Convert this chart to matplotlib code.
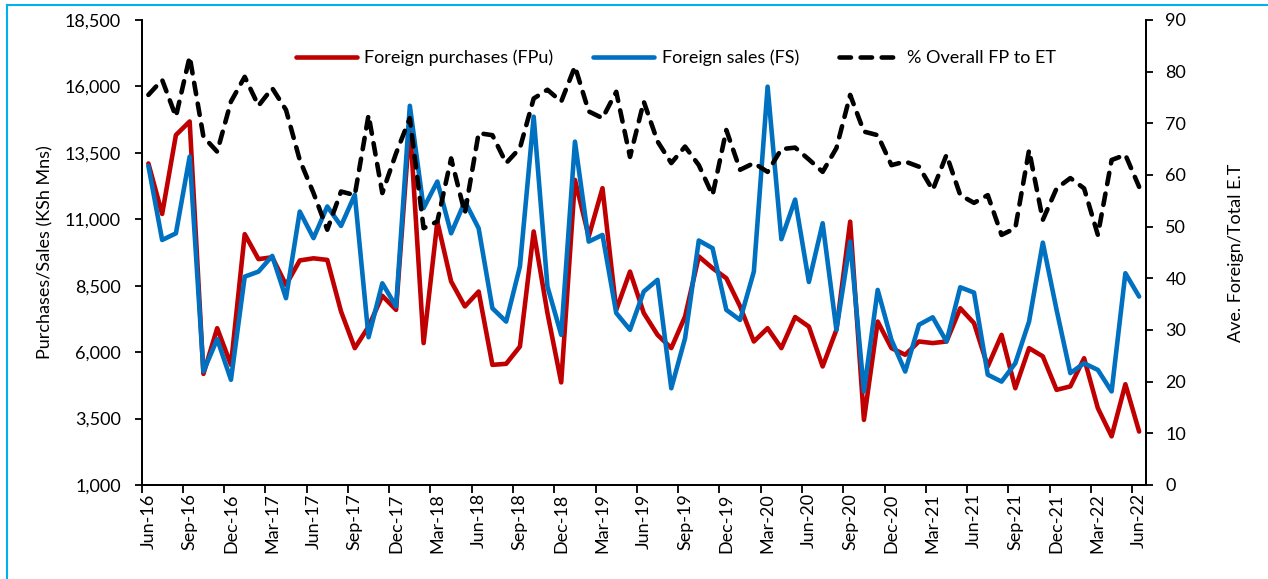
import matplotlib
matplotlib.use("Agg")
import matplotlib.pyplot as plt
from matplotlib.ticker import FuncFormatter, FixedLocator
from matplotlib.lines import Line2D

plt.rcParams['font.family'] = ['Lato', 'DejaVu Sans']

months = ["Jun-16", "Sep-16", "Dec-16", "Mar-17", "Jun-17", "Sep-17", "Dec-17", "Mar-18",
          "Jun-18", "Sep-18", "Dec-18", "Mar-19", "Jun-19", "Sep-19", "Dec-19", "Mar-20",
          "Jun-20", "Sep-20", "Dec-20", "Mar-21", "Jun-21", "Sep-21", "Dec-21", "Mar-22", "Jun-22"]

fpu = [13100, 11200, 14170, 14680, 5180, 6900, 5520, 10440, 9500, 9570,
       8530, 9450, 9530, 9470, 7530, 6150, 6960, 8120, 7590, 14600,
       6340, 10910, 8660, 7720, 8280, 5520, 5560, 6210, 10540, 7470,
       4860, 12480, 10350, 12170, 7590, 9030, 7470, 6650, 6150, 7340,
       9600, 9160, 8780, 7720, 6400, 6900, 6150, 7320, 6960, 5460,
       6840, 10910, 3450, 7150, 6150, 5900, 6400, 6340, 6400, 7650,
       7090, 5460, 6650, 4640, 6150, 5840, 4580, 4710, 5770, 3890,
       2830, 4790, 3010]

fs = [13010, 10220, 10470, 13360, 5270, 6490, 4960, 8840, 9030, 9620,
      8030, 11290, 10290, 11480, 10750, 11920, 6560, 8590, 7720, 15270,
      11420, 12420, 10470, 11670, 10660, 7650, 7150, 9220, 14860, 8470,
      6650, 13920, 10160, 10410, 7470, 6840, 8280, 8720, 4640, 6520,
      10200, 9910, 7590, 7210, 9030, 15990, 10250, 11740, 8640, 10850,
      6840, 10160, 4520, 8340, 6460, 5270, 7030, 7310, 6400, 8440,
      8240, 5150, 4890, 5580, 7150, 10120, 7590, 5210, 5580, 5330,
      4520, 8970, 8090]

pct = [75.5, 78.4, 71.3, 82.9, 67.4, 64.5, 74.2, 79.0, 73.4, 76.8,
       72.6, 62.9, 56.5, 49.4, 56.8, 56.1, 71.6, 56.5, 64.2, 71.0,
       49.7, 51.0, 63.2, 52.6, 68.1, 67.7, 62.3, 65.2, 74.8, 76.5,
       74.2, 81.0, 72.3, 71.0, 76.1, 63.5, 74.2, 66.5, 62.3, 65.5,
       61.9, 56.1, 68.7, 61.0, 62.3, 60.6, 65.0, 65.3, 63.0, 60.6,
       65.2, 75.5, 68.4, 67.7, 61.9, 62.6, 61.6, 57.1, 63.9, 56.1,
       54.6, 56.1, 48.4, 49.7, 64.8, 51.3, 57.4, 59.4, 57.4, 48.4,
       62.9, 63.9, 57.7]

RED = "#C00000"
BLUE = "#0070C0"
FS_ = 13
LW = 3.3

fig = plt.figure(figsize=(12.68, 5.79), dpi=100)
ax = fig.add_axes([0.1116, 0.1624, 0.9038 - 0.1116, 0.9655 - 0.1624])
ax2 = ax.twinx()

x = list(range(len(fpu)))
l1, = ax.plot(x, fpu, color=RED, lw=LW, solid_capstyle='round', solid_joinstyle='round', zorder=2)
l2, = ax.plot(x, fs, color=BLUE, lw=LW, solid_capstyle='round', solid_joinstyle='round', zorder=3)
l3, = ax2.plot(x, pct, color='black', lw=LW, dashes=(2.5, 2.1), dash_capstyle='round',
               dash_joinstyle='round', zorder=4)

ax.set_xlim(-0.5, len(fpu) - 0.5)
ax.set_ylim(1000, 18500)
ax.set_yticks(range(1000, 18501, 2500))
ax.yaxis.set_major_formatter(FuncFormatter(lambda v, p: f"{int(v):,}"))
ax2.set_ylim(0, 90)
ax2.set_yticks(range(0, 91, 10))

ax.set_xticks(range(0, len(fpu), 3))
ax.set_xticklabels(months, rotation=90, fontsize=FS_)
ax.xaxis.set_minor_locator(FixedLocator([-0.5 + 3 * k for k in range(25)]))
ax.tick_params(axis='x', which='major', length=0, pad=6)
ax.tick_params(axis='x', which='minor', length=6, width=1.3, direction='out')
ax.tick_params(axis='y', labelsize=FS_, length=5, width=1.3, direction='out', pad=10)
ax2.tick_params(axis='y', labelsize=FS_, length=5, width=1.3, direction='out', pad=9)

for a in (ax, ax2):
    a.spines['top'].set_visible(False)
    for s in ('left', 'right', 'bottom'):
        a.spines[s].set_linewidth(1.3)

ax.set_ylabel("Purchases/Sales (KSh Mns)", fontsize=FS_, labelpad=8)
ax2.set_ylabel("Ave. Foreign/Total E.T", fontsize=FS_, labelpad=30)

leg = ax.legend([l1, l2, l3], ["Foreign purchases (FPu)", "Foreign sales (FS)", "% Overall FP to ET"],
                loc='center', bbox_to_anchor=(0.532, 0.918), ncol=3, frameon=False,
                fontsize=FS_, handlelength=3.4, columnspacing=2.2, handletextpad=0.4)

border = "#00B0F0"
fig.add_artist(Line2D([0.0055, 1.0], [0.9915, 0.9915], transform=fig.transFigure, color=border, lw=1.5))
fig.add_artist(Line2D([0.0055, 0.0055], [0.0, 0.9915], transform=fig.transFigure, color=border, lw=1.5))

fig.savefig("out.png", dpi=100)
